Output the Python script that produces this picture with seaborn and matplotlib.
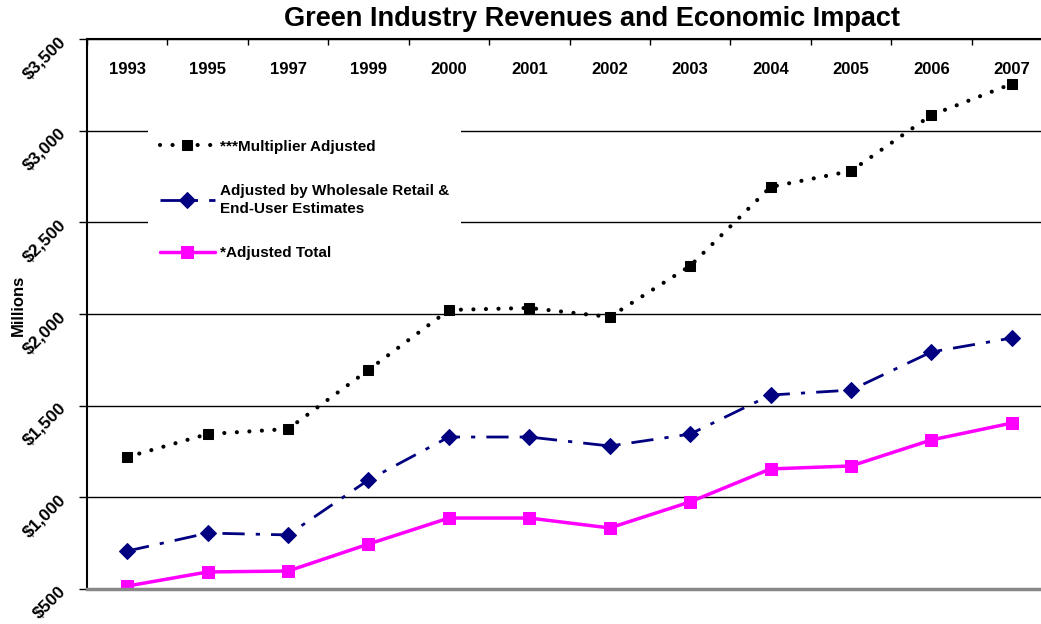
import numpy as np
import pandas as pd
import matplotlib
matplotlib.use("Agg")
import matplotlib.pyplot as plt
from matplotlib.ticker import FuncFormatter, MultipleLocator, FixedLocator
import seaborn as sns

years = ["1993", "1995", "1997", "1999", "2000", "2001", "2002", "2003", "2004", "2005", "2006", "2007"]
multiplier = [1220, 1345, 1373, 1695, 2022, 2033, 1984, 2262, 2693, 2780, 3085, 3255]
wholesale = [707, 805, 795, 1095, 1329, 1329, 1280, 1345, 1558, 1585, 1793, 1869]
adjusted = [516, 593, 598, 745, 887, 887, 833, 975, 1155, 1171, 1313, 1405]

labels = ["***Multiplier Adjusted",
          "Adjusted by Wholesale Retail &\nEnd-User Estimates",
          "*Adjusted Total"]


def plot_chart():
    sns.set_style("white")
    plt.rcParams['font.family'] = ['Liberation Sans', 'DejaVu Sans']
    plt.rcParams['font.weight'] = 'bold'
    plt.rcParams['text.color'] = 'black'
    plt.rcParams['axes.labelcolor'] = 'black'
    plt.rcParams['xtick.color'] = 'black'
    plt.rcParams['ytick.color'] = 'black'

    fig = plt.figure(figsize=(10.41, 6.24), dpi=100)
    ax = fig.add_axes([87 / 1041, 1 - 589 / 624, (1052 - 87) / 1041, (589 - 39) / 624])
    pos = np.arange(len(years))

    sns.lineplot(ax=ax, x=pos, y=multiplier, color='black', lw=3,
                 linestyle=(0, (0.01, 3)), dash_capstyle='round',
                 marker='s', markersize=7, markeredgecolor='black', label=labels[0])
    sns.lineplot(ax=ax, x=pos, y=wholesale, color='#000080', lw=2,
                 linestyle=(0, (8, 4, 1.5, 4)),
                 marker='D', markersize=8, markeredgecolor='#000080', label=labels[1])
    sns.lineplot(ax=ax, x=pos, y=adjusted, color='#ff00ff', lw=2.5,
                 marker='s', markersize=8, markeredgecolor='#ff00ff', label=labels[2])

    ax.set_xlim(-0.5, len(years) - 0.5)
    ax.set_ylim(500, 3500)
    ax.yaxis.set_major_locator(MultipleLocator(500))
    ax.yaxis.set_major_formatter(FuncFormatter(lambda v, p: "${:,.0f}".format(v)))
    ax.grid(axis='y', color='black', lw=1)
    ax.set_axisbelow(True)

    # year labels sit inside the top of the plot
    ax.xaxis.tick_top()
    ax.set_xticks(pos)
    ax.set_xticklabels(years, fontsize=12, fontweight='bold')
    ax.tick_params(axis='x', which='major', length=0, pad=-27)
    ax.xaxis.set_minor_locator(FixedLocator(np.arange(-0.5, len(years), 1)))
    ax.tick_params(axis='x', which='minor', top=True, direction='in', length=4, width=1, color='black')

    ax.tick_params(axis='y', left=True, direction='out', length=6, width=1, color='black', pad=11)
    for lab in ax.get_yticklabels():
        lab.set_rotation(45)
        lab.set_fontsize(12.5)
        lab.set_fontweight('bold')
        lab.set_ha('right')
        lab.set_va('center')
        lab.set_rotation_mode('anchor')

    for s in ['top', 'left']:
        ax.spines[s].set_color('black')
        ax.spines[s].set_linewidth(1.5)
    ax.spines['right'].set_visible(False)
    ax.spines['bottom'].set_color('#888888')
    ax.spines['bottom'].set_linewidth(2.5)

    ax.set_ylabel("Millions", fontsize=12, fontweight='bold')
    ax.yaxis.set_label_coords(-0.063, 0.515)
    ax.set_xlabel("")

    leg = ax.legend(loc='upper left', bbox_to_anchor=(0.055, 0.853), frameon=True,
                    facecolor='white', edgecolor='none', framealpha=1, fancybox=False,
                    fontsize=11, labelspacing=2.0, handlelength=3.6, handletextpad=0.3,
                    borderpad=0.8)
    for t in leg.get_texts():
        t.set_fontweight('bold')
        t.set_linespacing(1.3)

    fig.text(592 / 1041, 1 - 19 / 624, "Green Industry Revenues and Economic Impact",
             ha='center', va='center', fontsize=19.5, fontweight='bold')

    fig.savefig("out.png", dpi=100)


def main():
    plot_chart()


if __name__ == '__main__':
    main()
